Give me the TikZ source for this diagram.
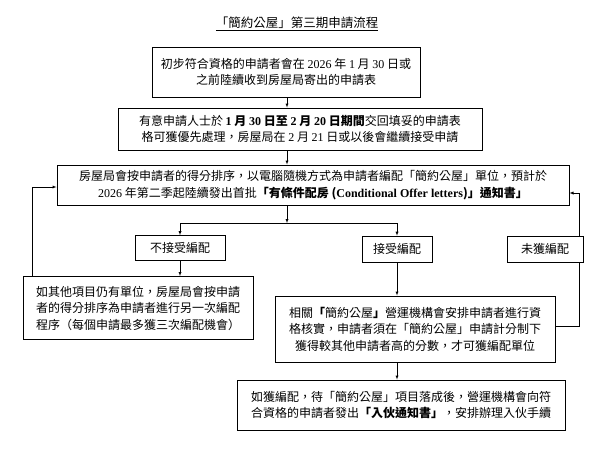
\documentclass[tikz,border=0pt]{standalone}
\usepackage{fontspec}
\setmainfont{Noto Sans CJK TC}
\newfontfamily\lat{Liberation Serif}
\usetikzlibrary{arrows}

\begin{document}
\begin{tikzpicture}[x=1pt,y=-1pt,
    schritt/.style={
      rectangle,
      draw,
      line width=1pt,
      align=center,
      inner sep=0pt,
      font=\fontsize{12}{16.5}\selectfont},
    wahl/.style={
      rectangle,
      draw,
      line width=.6pt,
      inner sep=0pt,
      font=\fontsize{12}{14}\selectfont}
    ]
  \useasboundingbox (0,0) rectangle (600,450);

  \node at (297,24) (titel) {\fontsize{12.5}{14}\selectfont\underline{「簡約公屋」第三期申請流程}};

  \node at (286,72) (schritt1) [schritt, minimum width=268, minimum height=50] {初步符合資格的申請者會在 {\lat 2026} 年 {\lat 1} 月 {\lat 30} 日或\\之前陸續收到房屋局寄出的申請表};
  \node at (300,129) (schritt2) [schritt, minimum width=364, minimum height=42] {有意申請人士於 \textbf{{\lat 1} 月 {\lat 30} 日至 {\lat 2} 月 {\lat 20} 日期間}交回填妥的申請表\\格可獲優先處理，房屋局在 {\lat 2} 月 {\lat 21} 日或以後會繼續接受申請};
  \node at (313,185) (schritt3) [schritt, minimum width=512, minimum height=40] {房屋局會按申請者的得分排序，以電腦隨機方式為申請者編配「簡約公屋」單位，預計於\\{\lat 2026} 年第二季起陸續發出首批\textbf{「有條件配房 ({\lat Conditional Offer letters})」通知書」}};

  \node at (180,248) (nein) [wahl, minimum width=90, minimum height=25] {不接受編配};
  \node at (397,249) (ja) [wahl, minimum width=70, minimum height=26] {接受編配};
  \node at (545,249) (keine) [wahl, minimum width=76, minimum height=26] {未獲編配};

  \node at (138,308) (andere) [schritt, minimum width=230, minimum height=63] {如其他項目仍有單位，房屋局會按申請\\者的得分排序為申請者進行另一次編配\\程序（每個申請最多獲三次編配機會）};
  \node at (415,329) (pruefung) [schritt, minimum width=280, minimum height=66] {相關\textbf{「}簡約公屋\textbf{」}營運機構會安排申請者進行資\\格核實，申請者須在「簡約公屋」申請計分制下\\獲得較其他申請者高的分數，才可獲編配單位};
  \node at (401,405) (einzug) [schritt, minimum width=328, minimum height=50] {如獲編配，待「簡約公屋」項目落成後，營運機構會向符\\合資格的申請者發出\textbf{「入伙通知書」}，安排辦理入伙手續};

  \coordinate (gabel) at (287,223);
  \coordinate (gabelL) at (180,223);
  \coordinate (gabelR) at (397,223);

  \path  [-latex] (schritt1.south -| gabel) edge [] (schritt2.north -| gabel);
  \path  [-latex] (schritt2.south -| gabel) edge [] (schritt3.north -| gabel);
  \draw  [-latex] (schritt3.south -| gabel) -- (gabel);
  \draw  (gabelL) -- (gabelR);
  \draw  [-latex] (gabelL) -- (nein);
  \draw  [-latex] (gabelR) -- (ja);
  \draw  [-latex] (nein) -- (andere.north -| nein);
  \draw  [-latex] (ja) -- (pruefung.north -| ja);
  \draw  [-latex] (pruefung.south -| ja) -- (einzug.north -| ja);

  \draw  [-latex] (andere.north -| 32,0) |- (schritt3.west |- 0,187);
  \draw  (pruefung.east |- 0,326) -| (keine.south -| 579,0);
  \draw  [-latex] (keine.north -| 579,0) |- (schritt3.east |- 0,193);

\end{tikzpicture}
\end{document}
